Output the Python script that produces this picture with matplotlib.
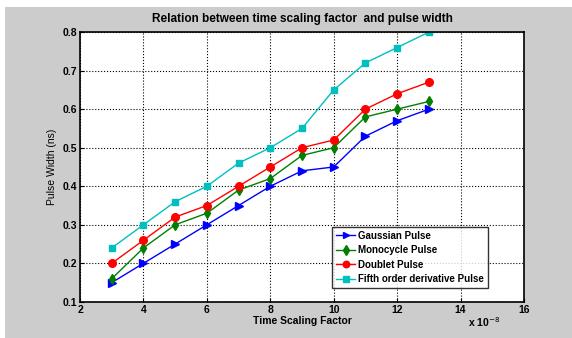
import matplotlib
matplotlib.use("Agg")
import matplotlib.pyplot as plt
from matplotlib.patches import Rectangle

plt.rcParams["font.family"] = ["Liberation Sans", "DejaVu Sans"]

# ------------------------------------------------------------
# Data (time scaling factor in units of 1e-8, pulse width in ns)
# ------------------------------------------------------------
scale = [3, 4, 5, 6, 7, 8, 9, 10, 11, 12, 13]
gaussian = [0.15, 0.20, 0.25, 0.30, 0.35, 0.40, 0.44, 0.45, 0.53, 0.57, 0.60]
monocycle = [0.16, 0.24, 0.30, 0.33, 0.39, 0.42, 0.48, 0.50, 0.58, 0.60, 0.62]
doublet = [0.20, 0.26, 0.32, 0.35, 0.40, 0.45, 0.50, 0.52, 0.60, 0.64, 0.67]
fifth = [0.24, 0.30, 0.36, 0.40, 0.46, 0.50, 0.55, 0.65, 0.72, 0.76, 0.80]

# grey MATLAB-style figure background, with a thin white strip at top/left
fig = plt.figure(figsize=(5.72, 3.38), dpi=100, facecolor="#cccccc")
fig.patches.append(Rectangle((0, 0), 5 / 572, 1, transform=fig.transFigure,
                             facecolor="white", edgecolor="none", zorder=-10))
fig.patches.append(Rectangle((0, 1 - 7 / 338), 1, 7 / 338, transform=fig.transFigure,
                             facecolor="white", edgecolor="none", zorder=-10))

ax = fig.add_axes([0.14, 0.107, 0.776, 0.798])
ax.set_facecolor("white")

ax.plot(scale, gaussian, color="#0000ff", marker=">", ms=5.5, lw=1, label="Gaussian Pulse")
ax.plot(scale, monocycle, color="#007f00", marker="d", ms=5.5, lw=1, label="Monocycle Pulse")
ax.plot(scale, doublet, color="#ff0000", marker="o", ms=5.5, lw=1, label="Doublet Pulse")
ax.plot(scale, fifth, color="#00bfbf", marker="s", ms=4.5, lw=1, label="Fifth order derivative Pulse")

ax.set_xlim(2, 16)
ax.set_ylim(0.1, 0.8)
ax.set_xticks(range(2, 17, 2))
ax.set_yticks([0.1, 0.2, 0.3, 0.4, 0.5, 0.6, 0.7, 0.8])
ax.grid(True, color="black", linestyle=":", linewidth=0.8)
ax.tick_params(direction="in", length=3, labelsize=7.5, pad=2)
for lbl in ax.get_xticklabels() + ax.get_yticklabels():
    lbl.set_fontweight("bold")
for sp in ax.spines.values():
    sp.set_linewidth(1.2)

ax.set_title("Relation between time scaling factor  and pulse width",
             fontsize=8.5, fontweight="bold", pad=7)
ax.set_xlabel("Time Scaling Factor", fontsize=7.5, fontweight="bold", labelpad=1)
ax.set_ylabel("Pulse Width (ns)", fontsize=7.5, labelpad=4)
ax.text(0.948, -0.05, r"x 10$^{-8}$", transform=ax.transAxes, ha="right", va="top",
        fontsize=7.5, fontweight="bold")

leg = ax.legend(loc="lower right", bbox_to_anchor=(0.919, 0.052), borderaxespad=0,
                prop={"weight": "bold", "size": 7}, frameon=True, fancybox=False,
                edgecolor="black", handlelength=2.0, borderpad=0.4, labelspacing=0.45,
                handletextpad=0.3, markerscale=0.85)
leg.get_frame().set_linewidth(1.0)

fig.savefig("out.png", dpi=100, facecolor=fig.get_facecolor())
